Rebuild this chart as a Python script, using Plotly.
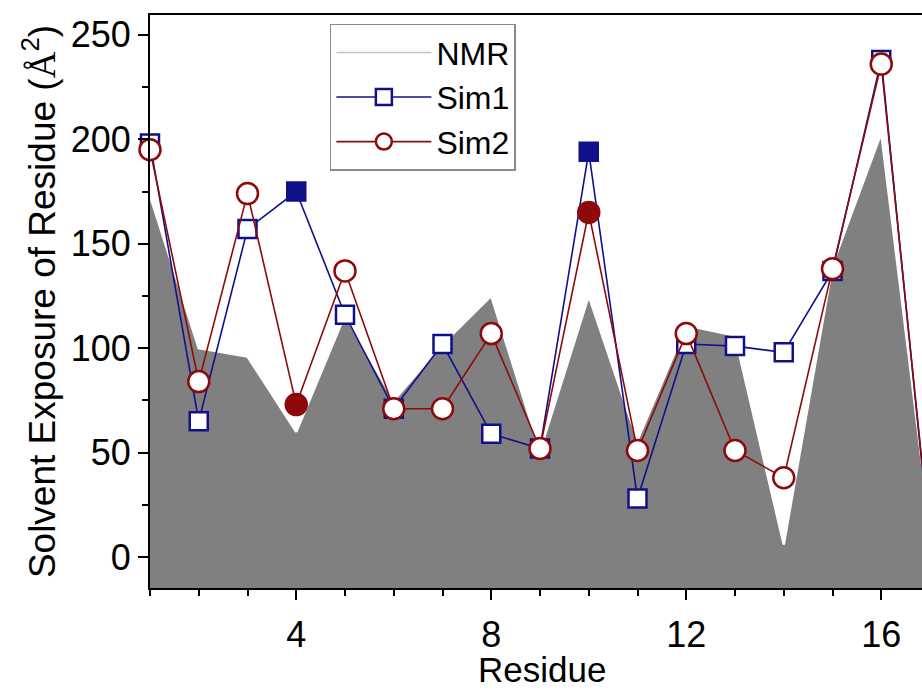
import plotly.graph_objects as go

residues = list(range(1, 18))
nmr = [173, 100, 96, 60, 116, 75, 102, 125, 51, 125, 56, 111, 106, 6, 140, 203, 14]
sim1 = [198, 65, 157, 175, 116, 71, 102, 59, 52, 194, 28, 102, 101, 98, 137, 238, 6]
sim2 = [195, 84, 174, 73, 137, 71, 71, 107, 52, 165, 51, 107, 51, 38, 138, 236, 8]
filled_residues = [4, 10]

x_range = [1, 16.836]
y_range = [-14.8, 259.5]

BLUE = "#10108a"
RED = "#8e0a0a"
GRAY = "#808080"
FONT = "Liberation Sans, Arial, sans-serif"

fig = go.Figure()

# baseline for the NMR area (bottom of the axis)
fig.add_trace(go.Scatter(x=residues, y=[y_range[0]] * len(residues), mode="lines",
                         line=dict(width=0, color=GRAY), showlegend=False, hoverinfo="skip"))
fig.add_trace(go.Scatter(x=residues, y=nmr, mode="lines", fill="tonexty", fillcolor=GRAY,
                         line=dict(color="#ffffff", width=2.5), showlegend=False))
# legend entry for NMR
fig.add_trace(go.Scatter(x=[None], y=[None], mode="lines", name="NMR",
                         line=dict(color="#c4c4c4", width=1.5)))

def fills(color):
    return [color if r in filled_residues else "white" for r in residues]

fig.add_trace(go.Scatter(x=residues, y=sim1, mode="lines+markers", name="Sim1",
                         line=dict(color=BLUE, width=1.6),
                         marker=dict(symbol="square", size=18, color=fills(BLUE),
                                     line=dict(color=BLUE, width=2.5)),
                         cliponaxis=False))
fig.add_trace(go.Scatter(x=residues, y=sim2, mode="lines+markers", name="Sim2",
                         line=dict(color=RED, width=1.6),
                         marker=dict(symbol="circle", size=21, color=fills(RED),
                                     line=dict(color=RED, width=2.5)),
                         cliponaxis=False))

fig.update_layout(
    width=922, height=693,
    margin=dict(l=150, r=0, t=15, b=105),
    paper_bgcolor="white", plot_bgcolor="white",
    font=dict(family=FONT, size=36, color="black"),
    showlegend=True,
    legend=dict(x=0.233, y=0.985, xanchor="left", yanchor="top", traceorder="normal",
                bordercolor="#8a8a8a", borderwidth=1.5, bgcolor="white",
                font=dict(size=32), tracegroupgap=0, itemwidth=95),
    xaxis=dict(range=x_range, tickmode="array", tickvals=[4, 8, 12, 16],
               automargin=False,
               ticks="outside", ticklen=10, tickwidth=1.5, tickcolor="black",
               ticklabelstandoff=4,
               minor=dict(tickmode="linear", tick0=1, dtick=1, ticks="outside",
                          ticklen=6, tickwidth=1.5, tickcolor="black"),
               showline=True, linecolor="black", linewidth=2, mirror=True,
               showgrid=False, zeroline=False),
    yaxis=dict(range=y_range, tickmode="array", tickvals=[0, 50, 100, 150, 200, 250],
               automargin=False,
               ticks="outside", ticklen=10, tickwidth=1.5, tickcolor="black",
               minor=dict(tickmode="linear", tick0=0, dtick=25, ticks="outside",
                          ticklen=6, tickwidth=1.5, tickcolor="black"),
               showline=True, linecolor="black", linewidth=2,
               showgrid=False, zeroline=False,
               title=dict(text='Solvent Exposure of Residue (<span style="font-family:Liberation Serif">Å</span><sup>2</sup>)',
                          font=dict(size=37), standoff=4)),
    annotations=[dict(text="Residue", xref="paper", yref="paper", x=0.508, y=-0.1431,
                      xanchor="center", yanchor="middle", showarrow=False, borderpad=0,
                      font=dict(size=35))],
)

fig.write_html("out.html")
